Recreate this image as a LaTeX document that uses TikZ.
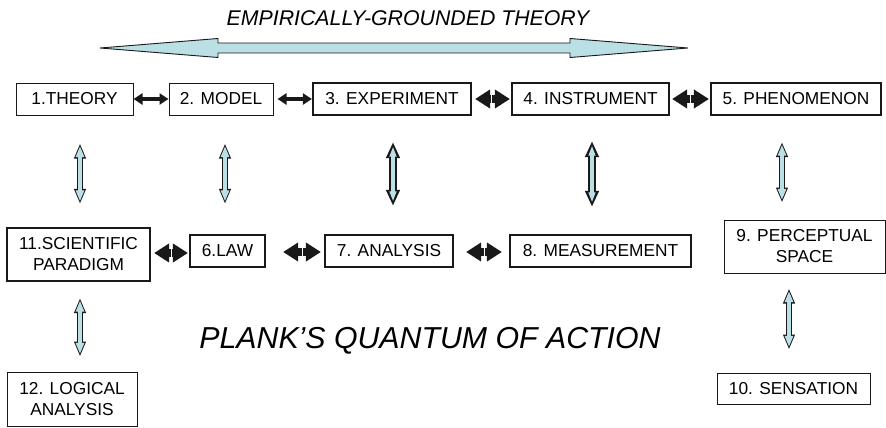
\documentclass[tikz,border=0pt]{standalone}
\usepackage{fontspec}
\setmainfont{Liberation Sans}
\usetikzlibrary{arrows.meta,calc}
\definecolor{acyan}{RGB}{186,224,229}
\definecolor{lc}{RGB}{25,25,25}
\begin{document}
\begin{tikzpicture}[x=1pt,y=-1pt,
  box/.style={draw=lc, line width=1pt, rectangle, inner sep=0pt, align=center,
    font=\fontsize{17.3}{21}\selectfont, text=black},
  tbox/.style={box, line width=2.2pt},
  slim/.style={line width=3.5pt, draw=black!90,
    {Triangle[width=11pt,length=9pt]}-{Triangle[width=11pt,length=9pt]}},
  fathalf/.style={line width=8pt, draw=black!90, shorten <=0.5pt,
    -{Triangle[width=18pt,length=15pt]}},
  vthin/.style={line width=6.5pt, draw=lc,
    {Triangle[width=11pt,length=15pt]}-{Triangle[width=11pt,length=15pt]},
    postaction={draw=acyan, line width=4.5pt, shorten <=2.6pt, shorten >=2.6pt,
      {Triangle[width=8pt,length=11pt]}-{Triangle[width=8pt,length=11pt]}}},
  vthick/.style={line width=8pt, draw=lc,
    {Triangle[width=13pt,length=16pt]}-{Triangle[width=13pt,length=16pt]},
    postaction={draw=acyan, line width=3.6pt, shorten <=4.5pt, shorten >=4.5pt,
      {Triangle[width=6.5pt,length=10pt]}-{Triangle[width=6.5pt,length=10pt]}}}
]
\useasboundingbox (0,0) rectangle (886,428);

% title and big arrow
\node[font=\fontsize{21.3}{24}\selectfont\itshape, text=black] (title) at (408,18) {EMPIRICALLY-GROUNDED THEORY};
\draw[line width=0.9pt, draw=lc, fill=acyan]
  (100,48) -- (218,38.5) -- (218,43) -- (570,43) -- (570,38.5) -- (688,48)
  -- (570,57.5) -- (570,53) -- (218,53) -- (218,57.5) -- cycle;

% top row
\node[box,  minimum width=117pt, minimum height=32pt] (t1) at (74.5,99) {1.THEORY};
\node[box,  minimum width=104pt, minimum height=32pt] (t2) at (221,99) {2. MODEL};
\node[tbox, minimum width=158pt, minimum height=32pt] (t3) at (392,99) {3. EXPERIMENT};
\node[tbox, minimum width=157pt, minimum height=32pt] (t4) at (590.5,99) {4. INSTRUMENT};
\node[tbox, minimum width=170pt, minimum height=32pt] (t5) at (796,99) {5. PHENOMENON};

% second row
\node[tbox, minimum width=143pt, minimum height=53pt] (p11) at (78.5,254.5) {11.SCIENTIFIC\\PARADIGM};
\node[tbox, minimum width=75pt,  minimum height=32pt] (p6) at (227.5,251) {6.LAW};
\node[tbox, minimum width=128pt, minimum height=32pt] (p7) at (389,251) {7. ANALYSIS};
\node[tbox, minimum width=181pt, minimum height=32pt] (p8) at (600.5,251) {8. MEASUREMENT};
\node[box,  minimum width=161pt, minimum height=53pt] (p9) at (804.5,246.5) {9. PERCEPTUAL\\SPACE};

% bottom row
\node[box, minimum width=130pt, minimum height=54pt] (p12) at (72,399) {12. LOGICAL\\ANALYSIS};
\node[box, minimum width=153pt, minimum height=31pt] (p10) at (793.5,388.5) {10. SENSATION};

\node[font=\fontsize{30.3}{33}\selectfont\itshape, text=black, anchor=base] (plank) at (430,348) {PLANK’S QUANTUM OF ACTION};

% horizontal connectors, top row
\draw[slim] (t1.east) -- (t2.west);
\draw[slim] ($(t2.east)+(4,0)$) -- (t3.west);
\draw[fathalf] ($(t3.east)!.5!(t4.west)$) -- ($(t3.east)+(3,0)$);
\draw[fathalf] ($(t3.east)!.5!(t4.west)$) -- ($(t4.west)+(-1,0)$);
\draw[fathalf] ($(t4.east)!.5!(t5.west)$) -- ($(t4.east)+(2,0)$);
\draw[fathalf] ($(t4.east)!.5!(t5.west)$) -- ($(t5.west)+(-1,0)$);

% horizontal connectors, second row
\coordinate (m116) at ($($(p11.east)+(3,-1.5)$)!.5!($(p6.west)+(-1,2)$)$);
\draw[fathalf] (m116) -- ($(p11.east)+(3,-1.5)$);
\draw[fathalf] (m116) -- ($(p6.west)+(-1,2)$);
\coordinate (m67) at ($($(p6.east)+(17,1)$)!.5!($(p7.west)+(-3,1)$)$);
\draw[fathalf] (m67) -- ($(p6.east)+(17,1)$);
\draw[fathalf] (m67) -- ($(p7.west)+(-3,1)$);
\coordinate (m78) at ($($(p7.east)+(12,1)$)!.5!($(p8.west)+(-7,1)$)$);
\draw[fathalf] (m78) -- ($(p7.east)+(12,1)$);
\draw[fathalf] (m78) -- ($(p8.west)+(-7,1)$);

% vertical connectors
\draw[vthin]  ($(t1.south)+(5.5,28)$) -- ($(p11.north)+(1.5,-23)$);
\draw[vthin]  ($(t2.south)+(4,28)$) -- ($(p6.north)+(-2.5,-30)$);
\draw[vthick] ($(t3.south)+(1,26)$) -- ($(p7.north)+(4,-28)$);
\draw[vthick] ($(t4.south)+(1.5,25)$) -- ($(p8.north)+(-8.5,-27)$);
\draw[vthin]  ($(t5.south)+(-14,26)$) -- ($(p9.north)+(-22.5,-17)$);
\draw[vthin]  ($(p11.south)+(1.5,16)$) -- ($(p12.north)+(8,-15)$);
\draw[vthin]  ($(p9.south)+(-15.5,15)$) -- ($(p10.north)+(-4.5,-23)$);
\end{tikzpicture}
\end{document}
